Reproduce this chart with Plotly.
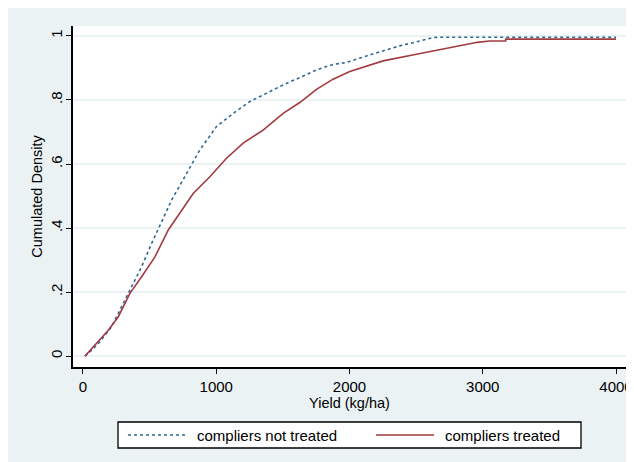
import plotly.graph_objects as go

# ---- data ----
yield_not_treated = [15, 52, 127, 215, 277, 352, 440, 515, 565, 602, 665, 752, 877, 1002, 1127,
                     1252, 1502, 1627, 1752, 1877, 1977, 2127, 2377, 2527, 2627, 2700, 3200, 4000]
cdf_not_treated = [0.0, 0.013, 0.045, 0.092, 0.144, 0.206, 0.279, 0.352, 0.394, 0.43, 0.4875, 0.55,
                   0.644, 0.717, 0.758, 0.795, 0.847, 0.87, 0.894, 0.911, 0.917, 0.9375, 0.969,
                   0.984, 0.995, 0.996, 0.996, 0.996]

yield_treated = [15, 90, 190, 265, 352, 440, 540, 640, 690, 790, 827, 952, 1077, 1202, 1352, 1502,
                 1627, 1752, 1877, 2002, 2252, 2502, 2752, 2877, 2960, 3052, 3172, 3172, 4000]
cdf_treated = [0.0, 0.034, 0.081, 0.123, 0.196, 0.248, 0.31, 0.394, 0.425, 0.4875, 0.508, 0.56,
               0.618, 0.665, 0.706, 0.758, 0.792, 0.833, 0.865, 0.889, 0.922, 0.943, 0.963, 0.974,
               0.98, 0.984, 0.984, 0.99, 0.99]

x_ticks = [0, 1000, 2000, 3000, 4000]
y_ticks = [0, 0.2, 0.4, 0.6, 0.8, 1]
y_tick_labels = ["0", ".2", ".4", ".6", ".8", "1"]
series_names = ["compliers not treated", "compliers treated"]

BLUE = "#2f6891"
RED = "#a23a40"
BG = "#eaf2f3"
FONT = "Liberation Sans, Arial, Helvetica, sans-serif"

fig = go.Figure()
fig.add_trace(go.Scatter(x=yield_not_treated, y=cdf_not_treated, mode="lines",
                         name=series_names[0], line=dict(color=BLUE, width=1.6, dash="dot")))
fig.add_trace(go.Scatter(x=yield_treated, y=cdf_treated, mode="lines",
                         name=series_names[1], line=dict(color=RED, width=1.6)))

# The page body has an 8px margin, so the figure sits at (8, 8) in the window.
OFF = 8
W, H = 634 - OFF, 462 - OFF
# plot-area geometry in window pixels
L, R, T, B = 73, 626, 26, 367
def px(xp):
    return (xp - L) / (R - L)
def py(yp):
    return (B - yp) / (B - T)

shapes = [
    # legend box
    dict(type="rect", xref="paper", yref="paper", x0=px(118), x1=px(581), y0=py(448), y1=py(422),
         fillcolor="white", line=dict(color="black", width=1.3)),
    dict(type="line", xref="paper", yref="paper", x0=px(128), x1=px(185), y0=py(435), y1=py(435),
         line=dict(color=BLUE, width=1.6, dash="dot")),
    dict(type="line", xref="paper", yref="paper", x0=px(376), x1=px(434), y0=py(435), y1=py(435),
         line=dict(color=RED, width=1.6)),
]
annotations = [
    dict(text=series_names[0], xref="paper", yref="paper", x=px(195), y=py(435),
         xanchor="left", yanchor="middle", showarrow=False, font=dict(size=15, color="black", family=FONT)),
    dict(text=series_names[1], xref="paper", yref="paper", x=px(443), y=py(435),
         xanchor="left", yanchor="middle", showarrow=False, font=dict(size=15, color="black", family=FONT)),
]

fig.update_layout(
    width=W, height=H,
    margin=dict(l=L - OFF, r=W - (R - OFF), t=T - OFF, b=H - (B - OFF), autoexpand=False),
    paper_bgcolor=BG, plot_bgcolor="white",
    font=dict(family=FONT, size=15, color="black"),
    showlegend=False,
    shapes=shapes, annotations=annotations,
    xaxis=dict(range=[-75, 4075], tickvals=x_ticks, ticks="outside", ticklen=5, tickwidth=1.3,
               tickcolor="black", showline=True, linecolor="black", linewidth=1.6, showgrid=False,
               zeroline=False, title=dict(text="Yield (kg/ha)", standoff=1, font=dict(size=14.5)),
               tickfont=dict(size=15)),
    yaxis=dict(range=[-0.034, 1.031], tickvals=y_ticks, ticktext=y_tick_labels, tickangle=-90,
               ticks="outside", ticklen=5, tickwidth=1.3, tickcolor="black", showline=True,
               linecolor="black", linewidth=1.6, showgrid=True, gridcolor=BG, gridwidth=1.5,
               zeroline=False, ticklabelstandoff=-2,
               title=dict(text="Cumulated Density", standoff=2, font=dict(size=14.5)),
               tickfont=dict(size=15)),
)

fig.write_html("out.html")
